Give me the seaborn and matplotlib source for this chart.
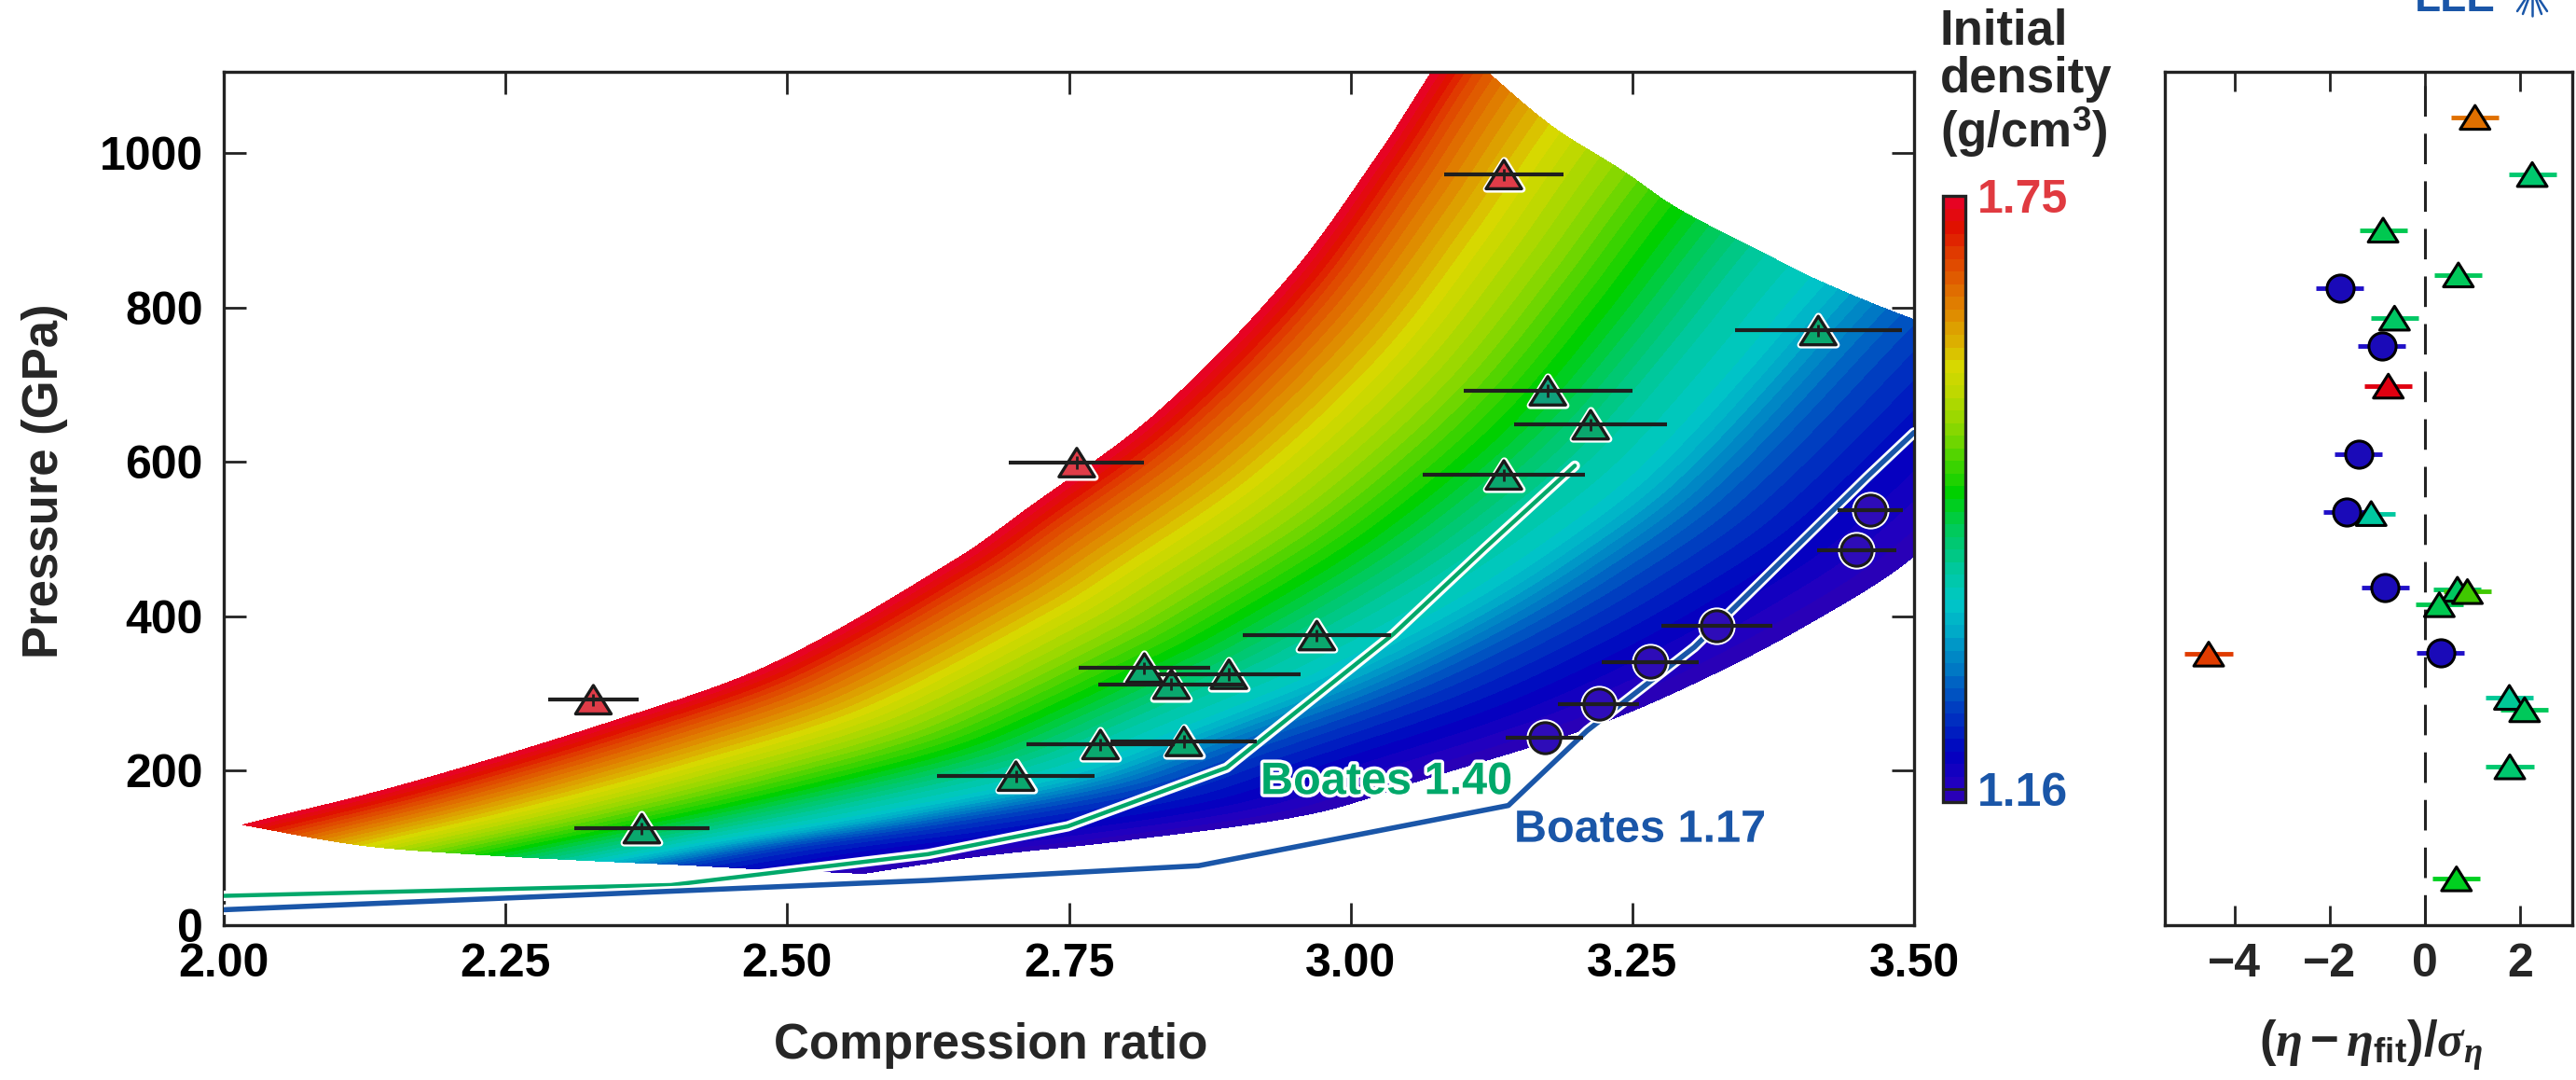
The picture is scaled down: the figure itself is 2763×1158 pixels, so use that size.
import numpy as np
import pandas as pd
import matplotlib
matplotlib.use("Agg")
import matplotlib.pyplot as plt
import seaborn as sns
from matplotlib.colors import LinearSegmentedColormap
from matplotlib.path import Path
from matplotlib.lines import Line2D
import matplotlib.patheffects as pe

# ---------------- data ----------------
rho_min, rho_max = 1.16, 1.75

# band edges
red_eta = [2.017, 2.157, 2.347, 2.486, 2.650, 2.711, 2.827, 2.944, 3.026, 3.072, 3.090]
red_P = [130, 181, 265, 338, 474, 537, 662, 837, 1001, 1105, 1145]
blue_eta = [2.568, 2.663, 2.800, 2.967, 3.067, 3.210, 3.300, 3.400, 3.500, 3.660]
blue_P = [67, 88, 110, 145, 190, 255, 310, 385, 478, 700]
low_t = [1.0, 0.72, 0.51, 0.33, 0.155, 0.08, 0.0]
low_eta = [2.017, 2.125, 2.232, 2.334, 2.410, 2.473, 2.568]
low_P = [130, 103, 91, 83, 78, 73, 67]
high_t = [1.0, 0.87, 0.72, 0.61, 0.51, 0.38, 0.33, 0.17, 0.0]
high_eta = [3.090, 3.121, 3.180, 3.241, 3.290, 3.364, 3.410, 3.500, 3.660]
high_P = [1145, 1105, 1033, 977, 928, 872, 838, 784, 700]
# density fraction reached at a given fraction of the way across the band (read along P = 715 GPa)
across_v = [0.0, 0.335, 0.60, 0.784, 1.0]
across_t = [0.0, 0.33, 0.51, 0.72, 1.0]

# Boates curves
b140_eta = [2.0, 2.397, 2.625, 2.749, 2.890, 3.038, 3.119, 3.199]
b140_P = [38, 52, 92, 128, 204, 377, 488, 595]
b117_eta = [2.0, 2.397, 2.625, 2.865, 3.140, 3.210, 3.305, 3.458, 3.50]
b117_P = [20, 44, 58, 77, 155, 252, 360, 580, 638]

# measurements (main panel)
tri_eta = [2.328, 2.371, 2.703, 2.778, 2.852, 2.817, 2.841, 2.892, 2.970, 2.757, 3.136, 3.213, 3.175, 3.415, 3.136]
tri_P = [292, 125, 193, 234, 238, 333, 312, 325, 375, 599, 583, 648, 692, 770, 972]
tri_xerr = [0.040, 0.060, 0.070, 0.066, 0.065, 0.058, 0.065, 0.064, 0.066, 0.060, 0.072, 0.068, 0.075, 0.074, 0.053]
tri_perr = [8, 8, 8, 8, 8, 8, 8, 8, 8, 8, 8, 8, 8, 8, 8]
tri_color = ["#e03c48", "#0aa86e", "#0aa86e", "#0aa86e", "#0aa86e", "#0aa86e", "#0aa86e", "#0aa86e",
             "#0aa86e", "#e03c48", "#0aa86e", "#0aa86e", "#10a07c", "#0aa86e", "#e03c48"]
circ_eta = [3.172, 3.220, 3.266, 3.325, 3.449, 3.461]
circ_P = [243, 286, 340, 388, 485, 538]
circ_xerr = [0.034, 0.036, 0.043, 0.049, 0.035, 0.029]

# residuals (right panel)
res_tri_x = [1.05, 2.25, -0.88, 0.70, -0.64, -0.77, -1.13, 0.68, 0.89, 0.30, 1.77, 2.09, 1.78, 0.66, -4.54]
res_tri_y = [1046, 972, 900, 842, 786, 698, 533, 435, 432, 415, 295, 279, 205, 60, 351]
res_tri_err = [0.5, 0.5, 0.5, 0.5, 0.5, 0.5, 0.5, 0.5, 0.5, 0.5, 0.5, 0.5, 0.5, 0.5, 0.5]
res_tri_color = ["#e07000", "#00c86e", "#00c850", "#00c85a", "#00c864", "#e00010", "#00c8a0", "#00c860",
                 "#40c800", "#00c850", "#00c896", "#00c85a", "#00c86e", "#00d020", "#e03c00"]
res_circ_x = [-1.79, -0.91, -1.40, -1.64, -0.84, 0.33]
res_circ_y = [825, 750, 610, 535, 437, 353]
res_circ_err = [0.5, 0.5, 0.5, 0.5, 0.5, 0.5]

cmap_t = [0.00, 0.03, 0.08, 0.155, 0.22, 0.28, 0.33, 0.38, 0.43, 0.47, 0.51, 0.57, 0.63, 0.68, 0.72, 0.76, 0.82, 0.90, 0.95, 1.00]
cmap_c = ["#2c00b4", "#2000c0", "#0000c0", "#0040c0", "#0078c4", "#00a8c8", "#00c8c8", "#00c8a0", "#00c870",
          "#00cc40", "#00d000", "#50d400", "#98d800", "#c0d800", "#d8d800", "#dcb000", "#e08000", "#e04000",
          "#e01000", "#e8002a"]

# ---------------- style ----------------
sns.set_theme(style="ticks")
plt.rcParams["font.family"] = ["Liberation Sans", "DejaVu Sans"]
plt.rcParams["font.weight"] = "bold"
plt.rcParams["axes.labelweight"] = "bold"
plt.rcParams["mathtext.fontset"] = "custom"
plt.rcParams["mathtext.rm"] = "Liberation Sans:bold"
plt.rcParams["mathtext.bf"] = "Liberation Sans:bold"
plt.rcParams["mathtext.it"] = "Liberation Serif:italic:bold"

W, H = 2763, 1158
fig = plt.figure(figsize=(W / 100, H / 100), dpi=100)
ax = fig.add_axes([240 / W, 1 - 992 / H, 1813 / W, 915 / H])
axr = fig.add_axes([2322 / W, 1 - 992 / H, 437 / W, 915 / H])
cax = fig.add_axes([2084 / W, 1 - 860 / H, 24 / W, 650 / H])

cmap = LinearSegmentedColormap.from_list("dens", list(zip(cmap_t, cmap_c)))


# ---------------- density band (Coons patch between read edges) ----------------
def hermite(pk, yk, pq):
    pk = np.asarray(pk, float); yk = np.asarray(yk, float); pq = np.asarray(pq, float)
    m = np.empty_like(yk)
    m[1:-1] = (yk[2:] - yk[:-2]) / (pk[2:] - pk[:-2])
    m[0] = (yk[1] - yk[0]) / (pk[1] - pk[0])
    m[-1] = (yk[-1] - yk[-2]) / (pk[-1] - pk[-2])
    i = np.clip(np.searchsorted(pk, pq) - 1, 0, len(pk) - 2)
    h = pk[i + 1] - pk[i]
    s = (pq - pk[i]) / h
    h00 = 2 * s ** 3 - 3 * s ** 2 + 1
    h10 = s ** 3 - 2 * s ** 2 + s
    h01 = -2 * s ** 3 + 3 * s ** 2
    h11 = s ** 3 - s ** 2
    return h00 * yk[i] + h10 * h * m[i] + h01 * yk[i + 1] + h11 * h * m[i + 1]


def arc_param(e, p):
    e = np.asarray(e, float); p = np.asarray(p, float)
    d = np.hypot(np.diff(e) / 1.5, np.diff(p) / 1105.0)
    s = np.concatenate([[0.0], np.cumsum(d)])
    return s / s[-1]


u = np.linspace(0, 1, 600)
v = np.linspace(0, 1, 300)
U, V = np.meshgrid(u, v)
tv = np.clip(hermite(across_v, across_t, v), 0, 1)
sr = arc_param(red_eta, red_P); sb = arc_param(blue_eta, blue_P)
rx, ry = hermite(sr, red_eta, u), hermite(sr, red_P, u)
bx, by = hermite(sb, blue_eta, u), hermite(sb, blue_P, u)
lt = np.array(low_t)[::-1]
lx = hermite(lt, np.array(low_eta)[::-1], tv); ly = hermite(lt, np.array(low_P)[::-1], tv)
ht = np.array(high_t)[::-1]
hx = hermite(ht, np.array(high_eta)[::-1], tv); hy = hermite(ht, np.array(high_P)[::-1], tv)


def coons(b, r, l, h):
    return ((1 - V) * b[None, :] + V * r[None, :] + (1 - U) * l[:, None] + U * h[:, None]
            - ((1 - U) * (1 - V) * b[0] + (1 - U) * V * r[0] + U * (1 - V) * b[-1] + U * V * r[-1]))


X = coons(bx, rx, lx, hx)
Y = coons(by, ry, ly, hy)
Rho = rho_min + np.broadcast_to(tv[:, None], X.shape) * (rho_max - rho_min)
levels = np.linspace(rho_min, rho_max, 49)
cs = ax.contourf(X, Y, Rho, levels=levels, cmap=cmap, antialiased=False, zorder=1)

# ---------------- Boates curves ----------------
sns.lineplot(x=b140_eta, y=b140_P, ax=ax, color="#00a86a", lw=3.2, sort=False, estimator=None, zorder=3,
             path_effects=[pe.Stroke(linewidth=8, foreground="white"), pe.Normal()])
sns.lineplot(x=b117_eta, y=b117_P, ax=ax, color="#1a56a8", lw=4.0, sort=False, estimator=None, zorder=3,
             path_effects=[pe.Stroke(linewidth=8, foreground="white"), pe.Normal()])
ax.text(2.92, 185, "Boates 1.40", color="#00a86a", fontsize=35, fontweight="bold", ha="left", va="center",
        zorder=7, path_effects=[pe.withStroke(linewidth=5, foreground="white")])
ax.text(3.145, 123, "Boates 1.17", color="#1a56a8", fontsize=35, fontweight="bold", ha="left", va="center",
        zorder=7, path_effects=[pe.withStroke(linewidth=5, foreground="white")])

# ---------------- markers ----------------
tri = Path([(0, 0.8), (-1, -0.8), (1, -0.8), (0, 0.8)], [Path.MOVETO, Path.LINETO, Path.LINETO, Path.CLOSEPOLY])
s_tri = 27.5 ** 2
sns.scatterplot(x=tri_eta, y=tri_P, marker=tri, s=s_tri, color="white", edgecolor="white", linewidth=5.5,
                ax=ax, zorder=4, legend=False)
sns.scatterplot(x=tri_eta, y=tri_P, hue=tri_color, palette={c: c for c in set(tri_color)}, marker=tri,
                s=s_tri, edgecolor="#1a1a1a", linewidth=2.4, ax=ax, zorder=5, legend=False)
s_c = 24 ** 2
sns.scatterplot(x=circ_eta, y=circ_P, marker="o", s=s_c, color="white", edgecolor="white", linewidth=5,
                ax=ax, zorder=4, legend=False)
sns.scatterplot(x=circ_eta, y=circ_P, marker="o", s=s_c, color="#2e0cb8", edgecolor="#1a1a1a", linewidth=2.2,
                ax=ax, zorder=5, legend=False)
ax.errorbar(tri_eta, tri_P, xerr=tri_xerr, fmt="none", ecolor="#1f1f1f", elinewidth=3, capsize=0, zorder=6)
ax.errorbar(tri_eta, tri_P, yerr=tri_perr, fmt="none", ecolor="#1f1f1f", elinewidth=2, capsize=0, zorder=6)
ax.errorbar(circ_eta, circ_P, xerr=circ_xerr, fmt="none", ecolor="#1f1f1f", elinewidth=3, capsize=0, zorder=6)

# ---------------- main axes styling ----------------
ax.set_xlim(2.0, 3.5)
ax.set_ylim(0, 1105)
ax.set_xticks([2.0, 2.25, 2.5, 2.75, 3.0, 3.25, 3.5])
ax.set_xticklabels(["2.00", "2.25", "2.50", "2.75", "3.00", "3.25", "3.50"])
ax.set_yticks([0, 200, 400, 600, 800, 1000])
ax.tick_params(axis="both", direction="in", length=17, width=2, color="#222222", labelsize=36,
               top=True, right=True, labelcolor="black")
ax.tick_params(axis="x", pad=14)
ax.tick_params(axis="y", pad=16)
for lab in ax.get_xticklabels() + ax.get_yticklabels():
    lab.set_fontweight("bold")
for sp in ax.spines.values():
    sp.set_linewidth(2.4); sp.set_color("#222222")
ax.set_xlabel("Compression ratio", fontsize=38, fontweight="bold")
ax.set_ylabel("Pressure (GPa)", fontsize=38, fontweight="bold")
ax.xaxis.set_label_coords(0.454, -0.114)
ax.yaxis.set_label_coords(-0.092, 0.52)

# ---------------- right panel ----------------
axr.axvline(0, color="#222222", lw=2.2, ls=(0, (10.7, 6)), zorder=1)
tx = np.array(res_tri_x); te = np.array(res_tri_err)
axr.hlines(res_tri_y, tx - te, tx + te, colors=res_tri_color, lw=3.5, zorder=2)
cx = np.array(res_circ_x); ce = np.array(res_circ_err)
axr.hlines(res_circ_y, cx - ce, cx + ce, colors="#2010c8", lw=3.5, zorder=2)
sns.scatterplot(x=res_tri_x, y=res_tri_y, hue=res_tri_color, palette={c: c for c in set(res_tri_color)},
                marker=tri, s=23 ** 2, edgecolor="black", linewidth=2.2, ax=axr, zorder=3, legend=False)
sns.scatterplot(x=res_circ_x, y=res_circ_y, marker="o", s=21 ** 2, color="#1a0ab8", edgecolor="black",
                linewidth=2.2, ax=axr, zorder=3, legend=False)
axr.set_xlim(-5.46, 3.09)
axr.set_ylim(0, 1105)
axr.set_yticks([])
axr.set_xticks([-4, -2, 0, 2])
axr.tick_params(axis="x", direction="in", length=15, width=2, color="#222222", labelsize=36, top=True, pad=14)
for lab in axr.get_xticklabels():
    lab.set_fontweight("bold")
for sp in axr.spines.values():
    sp.set_linewidth(2.4); sp.set_color("#222222")
axr.set_xlabel(r"$(\eta-\eta_{\mathbf{fit}})/\sigma_{\eta}$", fontsize=38)
axr.xaxis.set_label_coords(0.506, -0.109)

# ---------------- colorbar ----------------
cb = fig.colorbar(cs, cax=cax)
cb.set_ticks([])
cb.outline.set_linewidth(2.4)
cb.outline.set_edgecolor("#222222")
cax.axhline(levels[1], color="#222222", lw=2)
cax.text(1.54, 0.992, "1.75", transform=cax.transAxes, color="#e03a40", fontsize=36, fontweight="bold",
         ha="left", va="center")
cax.text(1.54, 0.014, "1.16", transform=cax.transAxes, color="#1a56a8", fontsize=36, fontweight="bold",
         ha="left", va="center")
fig.text(2081 / W, 1 - 8 / H, "Initial\ndensity\n(g/cm$^{\\mathbf{3}}$)", ha="left", va="top", fontsize=38,
         fontweight="bold", linespacing=1.05)

# ---------------- logo ----------------
fig.text(2590 / W, 1 - 12 / H, "LLE", color="#1a56a8", fontsize=33, fontweight="bold", ha="left", va="baseline")
cxp, cyp = 2716, -12
for ex, ey in [(2716, 17), (2700, 12), (2732, 12), (2706, 15), (2726, 15)]:
    fig.add_artist(Line2D([cxp / W, ex / W], [1 - cyp / H, 1 - ey / H], transform=fig.transFigure,
                          color="#1a56a8", lw=1.8))

fig.savefig("out.png", dpi=100)
